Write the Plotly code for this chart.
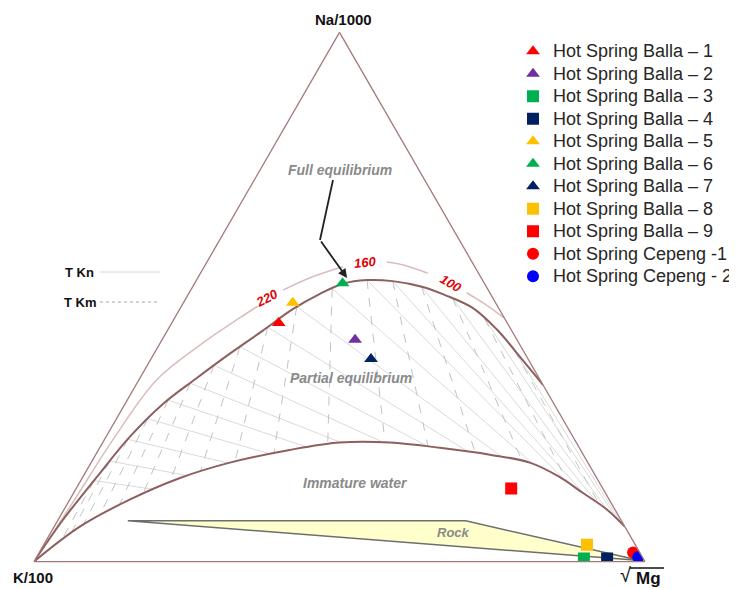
import math
import plotly.graph_objects as go

# ---------------- data (ternary fractions: Na/1000, K/100, sqrt(Mg)) ----------------
sample_names = [
    "Hot Spring Balla – 1", "Hot Spring Balla – 2", "Hot Spring Balla – 3",
    "Hot Spring Balla – 4", "Hot Spring Balla – 5", "Hot Spring Balla – 6",
    "Hot Spring Balla – 7", "Hot Spring Balla – 8", "Hot Spring Balla – 9",
    "Hot Spring Cepeng -1", "Hot Spring Cepeng - 2",
]
sample_na = [0.451, 0.419, 0.006, 0.006, 0.489, 0.526, 0.383, 0.032, 0.138, 0.017, 0.008]
sample_k = [0.374, 0.265, 0.097, 0.059, 0.332, 0.232, 0.257, 0.079, 0.150, 0.011, 0.007]
sample_mg = [0.175, 0.316, 0.897, 0.935, 0.179, 0.242, 0.360, 0.889, 0.712, 0.972, 0.985]
sample_symbols = ["triangle-up", "triangle-up", "square", "square", "triangle-up",
                  "triangle-up", "triangle-up", "square", "square", "circle", "circle"]
sample_colors = ["#ff0000", "#7030a0", "#00b050", "#002060", "#ffc000",
                 "#00b050", "#002060", "#ffc000", "#ff0000", "#ff0000", "#0000ff"]

# full equilibrium line
feq_na = [0, 0.079, 0.160, 0.236, 0.298, 0.347, 0.393, 0.436, 0.477, 0.506, 0.525,
          0.532, 0.530, 0.519, 0.504, 0.479, 0.438, 0.381, 0.334]
feq_k = [1, 0.913, 0.817, 0.725, 0.640, 0.560, 0.483, 0.408, 0.338, 0.279, 0.232,
         0.189, 0.148, 0.104, 0.076, 0.042, 0.023, 0.010, 0.000]
feq_mg = [0, 0.008, 0.023, 0.039, 0.062, 0.093, 0.124, 0.156, 0.185, 0.215, 0.243,
          0.279, 0.322, 0.377, 0.420, 0.479, 0.539, 0.609, 0.666]

# immature water line
im_na = [0, 0.066, 0.117, 0.158, 0.187, 0.211, 0.225, 0.225, 0.215, 0.202, 0.187,
         0.160, 0.130, 0.098, 0.066]
im_k = [1, 0.892, 0.785, 0.682, 0.586, 0.476, 0.387, 0.305, 0.228, 0.153, 0.095,
        0.060, 0.037, 0.013, 0.000]
im_mg = [0, 0.042, 0.098, 0.160, 0.227, 0.313, 0.388, 0.470, 0.557, 0.645, 0.718,
         0.780, 0.833, 0.889, 0.934]

# temperature scale arc (None = gap for the labels)
arc_na = [0, 0.117, 0.230, 0.343, 0.409, 0.460, 0.483, None, 0.513, 0.536, 0.557, None,
          0.566, 0.560, 0.545, None, 0.508, 0.487, 0.460]
arc_k = [1, 0.875, 0.756, 0.628, 0.524, 0.434, 0.392, None, 0.336, 0.281, 0.216, None,
         0.140, 0.114, 0.083, None, 0.038, 0.019, 0.000]
arc_mg = [0, 0.008, 0.014, 0.029, 0.067, 0.106, 0.125, None, 0.151, 0.183, 0.227, None,
          0.294, 0.326, 0.372, None, 0.454, 0.494, 0.540]
arc_labels = ["220", "160", "100"]

# isotherm anchor points on the full equilibrium line
iso_na = [0.153, 0.190, 0.231, 0.270, 0.305, 0.337, 0.371, 0.406, 0.443, 0.482,
          0.516, 0.532, 0.530, 0.519, 0.497, 0.459, 0.399]
iso_k = [0.825, 0.781, 0.731, 0.679, 0.628, 0.576, 0.520, 0.460, 0.396, 0.329,
         0.254, 0.189, 0.148, 0.106, 0.066, 0.033, 0.014]
iso_mg = [0.022, 0.029, 0.038, 0.051, 0.067, 0.087, 0.109, 0.134, 0.161, 0.189,
          0.230, 0.279, 0.322, 0.375, 0.437, 0.508, 0.587]

# rock field
rock_na = [0.077, 0.077, 0.002, 0.077]
rock_k = [0.808, 0.255, 0.007, 0.808]
rock_mg = [0.115, 0.668, 0.991, 0.115]

# ---------------- geometry helpers ----------------
S3 = math.sqrt(3) / 2


def to_xy(a, b, c):
    s = a + b + c
    a, c = a / s, c / s
    return (c + a / 2, a * S3)


def to_abc(x, y):
    a = y / S3
    c = x - a / 2
    return (a, 1 - a - c, c)


im_xy = [to_xy(a, b, c) for a, b, c in zip(im_na, im_k, im_mg)]


def ray_hit(p, d, poly):
    best = None
    for (x1, y1), (x2, y2) in zip(poly[:-1], poly[1:]):
        ex, ey = x2 - x1, y2 - y1
        den = d[0] * ey - d[1] * ex
        if abs(den) < 1e-12:
            continue
        t = ((x1 - p[0]) * ey - (y1 - p[1]) * ex) / den
        u = ((x1 - p[0]) * d[1] - (y1 - p[1]) * d[0]) / den
        if t > 1e-9 and -1e-9 <= u <= 1 + 1e-9:
            if best is None or t < best:
                best = t
    return (p[0] + best * d[0], p[1] + best * d[1])


kn_a, kn_b, kn_c = [], [], []
km_a, km_b, km_c = [], [], []
apex_na = to_xy(1, 0, 0)
apex_mg = to_xy(0, 0, 1)
for a, b, c in zip(iso_na, iso_k, iso_mg):
    p = to_xy(a, b, c)
    # T Kn line: towards the sqrt(Mg) apex
    q = ray_hit(p, (apex_mg[0] - p[0], apex_mg[1] - p[1]), im_xy)
    qa, qb, qc = to_abc(*q)
    kn_a += [a, qa, None]; kn_b += [b, qb, None]; kn_c += [c, qc, None]
    # T Km line: away from the Na apex
    q = ray_hit(p, (p[0] - apex_na[0], p[1] - apex_na[1]), im_xy)
    qa, qb, qc = to_abc(*q)
    km_a += [a, qa, None]; km_b += [b, qb, None]; km_c += [c, qc, None]

# ---------------- figure ----------------
fig = go.Figure()
fig.add_trace(go.Scatterternary(a=kn_a, b=kn_b, c=kn_c, mode="lines",
                                line=dict(color="#dadada", width=1),
                                showlegend=False, hoverinfo="skip"))
fig.add_trace(go.Scatterternary(a=km_a, b=km_b, c=km_c, mode="lines",
                                line=dict(color="#c2c2c2", width=1, dash="dash"),
                                showlegend=False, hoverinfo="skip"))
fig.add_trace(go.Scatterternary(a=arc_na, b=arc_k, c=arc_mg, mode="lines",
                                line=dict(color="#dbbcbc", width=1.5, shape="spline"),
                                showlegend=False, hoverinfo="skip"))
fig.add_trace(go.Scatterternary(a=feq_na, b=feq_k, c=feq_mg, mode="lines",
                                line=dict(color="#8e5f5f", width=2, shape="spline"),
                                showlegend=False, hoverinfo="skip"))
fig.add_trace(go.Scatterternary(a=im_na, b=im_k, c=im_mg, mode="lines",
                                line=dict(color="#8e5f5f", width=2, shape="spline"),
                                showlegend=False, hoverinfo="skip"))
fig.add_trace(go.Scatterternary(a=rock_na, b=rock_k, c=rock_mg, mode="lines",
                                fill="toself", fillcolor="#ffffcc",
                                line=dict(color="#6e6e6e", width=1.5),
                                showlegend=False, hoverinfo="skip"))

for i, name in enumerate(sample_names):
    fig.add_trace(go.Scatterternary(
        a=[sample_na[i]], b=[sample_k[i]], c=[sample_mg[i]], mode="markers",
        name='<span style="font-size:18px">' + name + '</span>',
        marker=dict(symbol=sample_symbols[i], color=sample_colors[i], size=12,
                    line=dict(width=0)),
    ))

W, H = 737, 589
OFF = 8  # page body margin of the exported html


def px(x):
    return (x - OFF) / W


def py(y):
    return 1 - (y - OFF) / H


edge = "#a57878"
axis_common = dict(showgrid=False, showticklabels=False, ticks="",
                   linecolor=edge, linewidth=1.3, showline=True,
                   title=dict(text=""))

gray = "#8a8a8a"
FONT = "Arial, Liberation Sans"
annotations = [
    dict(x=px(343), y=py(20), text="<b>Na/1000</b>", font=dict(size=15, color="#111")),
    dict(x=px(33), y=py(577), text="<b>K/100</b>", font=dict(size=15, color="#111")),
    dict(x=px(625), y=py(575), text="√", font=dict(size=20, color="#111")),
    dict(x=px(648), y=py(578), text="<b>Mg</b>", font=dict(size=17, color="#111")),
    dict(x=px(340), y=py(170), text="<b><i>Full equilibrium</i></b>",
         font=dict(size=14, color=gray)),
    dict(x=px(351), y=py(378), text="<b><i>Partial equilibrium</i></b>",
         font=dict(size=14, color=gray)),
    dict(x=px(355), y=py(483), text="<b><i>Immature water</i></b>",
         font=dict(size=14, color=gray)),
    dict(x=px(453), y=py(532), text="<b><i>Rock</i></b>",
         font=dict(size=13, color=gray)),
    dict(x=px(266), y=py(298), text="<b><i>" + arc_labels[0] + "</i></b>", textangle=-28,
         font=dict(size=13, color="#e00000")),
    dict(x=px(365), y=py(262), text="<b><i>" + arc_labels[1] + "</i></b>", textangle=-6,
         font=dict(size=13, color="#e00000")),
    dict(x=px(451), y=py(283), text="<b><i>" + arc_labels[2] + "</i></b>", textangle=30,
         font=dict(size=13, color="#e00000")),
    dict(x=px(79), y=py(272), text="<b>T Kn</b>", font=dict(size=13, color="#111")),
    dict(x=px(80), y=py(302), text="<b>T Km</b>", font=dict(size=13, color="#111")),
    dict(x=px(347), y=py(278), ax=-27, ay=-38, text="", showarrow=True,
         arrowhead=2, arrowsize=1, arrowwidth=1.8, arrowcolor="#222"),
]
for an in annotations:
    an.setdefault("xref", "paper")
    an.setdefault("yref", "paper")
    an.setdefault("showarrow", False)
    an.setdefault("xanchor", "center")
    an.setdefault("yanchor", "middle")
    an["font"] = dict(family=FONT, **an.get("font", {}))

shapes = [
    dict(type="line", xref="paper", yref="paper", x0=px(100), x1=px(160),
         y0=py(272), y1=py(272), line=dict(color="#d6d6d6", width=1)),
    dict(type="line", xref="paper", yref="paper", x0=px(100), x1=px(160),
         y0=py(302), y1=py(302), line=dict(color="#a8a8a8", width=1, dash="dot")),
    dict(type="line", xref="paper", yref="paper", x0=px(333), x1=px(320),
         y0=py(180), y1=py(240), line=dict(color="#222", width=1.8)),
    dict(type="line", xref="paper", yref="paper", x0=px(630), x1=px(664),
         y0=py(568), y1=py(568), line=dict(color="#111", width=1.6)),
]

fig.update_layout(
    width=W, height=H,
    margin=dict(l=0, r=0, t=0, b=0, autoexpand=False),
    paper_bgcolor="white",
    ternary=dict(
        domain=dict(x=[px(34), px(645)], y=[py(297) - 0.47, py(297) + 0.47]),
        sum=1, bgcolor="white",
        aaxis=axis_common, baxis=axis_common, caxis=axis_common,
    ),
    legend=dict(x=505 / W, y=1 - 27 / H, xanchor="left", yanchor="top",
                bgcolor="rgba(0,0,0,0)",
                font=dict(family=FONT, size=15, color="#262626")),
    annotations=annotations,
    shapes=shapes,
)

fig.write_html("out.html")
